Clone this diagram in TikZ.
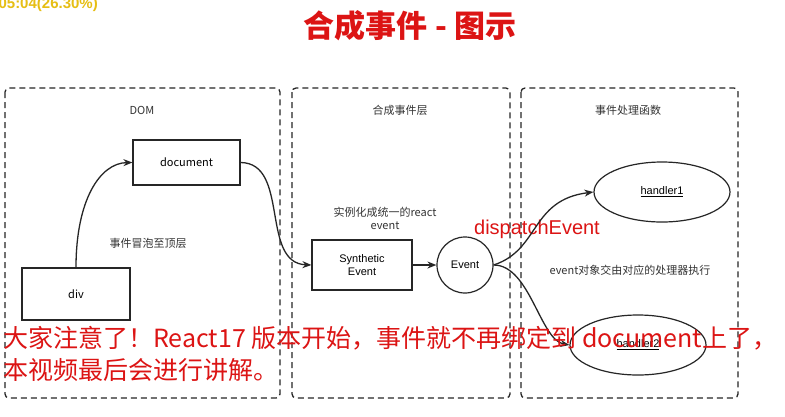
\documentclass[tikz,border=0pt]{standalone}
\usepackage{fontspec}
\setmainfont{Liberation Sans}
\newfontfamily\cjk{Noto Sans CJK SC}
\usetikzlibrary{arrows.meta,shapes.geometric}
\definecolor{rd}{RGB}{220,20,20}
\tikzset{
 zone/.style={draw=black!85,dashed,line width=1.3pt,rounded corners=4pt,dash pattern=on 6pt off 4pt},
 boxn/.style={draw=black!85,line width=1.2pt,font=\cjk\fontsize{11}{12}\selectfont,align=center},
 ell/.style={ellipse,draw=black!85,line width=1.2pt,minimum width=136pt,minimum height=60pt,font=\fontsize{11}{12}\selectfont},
 lbl/.style={font=\cjk\fontsize{11}{13}\selectfont,align=center,text=black!80},
 con/.style={line width=1.3pt,draw=black!85,-{Stealth[length=9pt,width=7pt]}},
 warn/.style={font=\cjk\fontsize{25}{30}\selectfont,text=rd,anchor=west,inner sep=0pt}
}
\begin{document}
\begin{tikzpicture}[x=1pt,y=-1pt]
\useasboundingbox (0,0) rectangle (785,416);
\fill[white] (0,0) rectangle (785,416);
\node[anchor=east,inner sep=0pt,text={rgb,255:red,230;green,190;blue,20},font=\fontsize{15}{16}\selectfont\bfseries] (clock) at (98,5) {05:04(26.30\%)};
\node[font=\cjk\fontsize{31}{34}\selectfont\bfseries,text=rd] (title) at (410,26) {合成事件 - 图示};
\draw[zone] (5,88) rectangle (280,398);
\draw[zone] (292,88) rectangle (510,398);
\draw[zone] (521,88) rectangle (738,398);
\node[lbl] (t1) at (142,110) {DOM};
\node[lbl] (t2) at (400,110) {合成事件层};
\node[lbl] (t3) at (628,110) {事件处理函数};
\node[boxn,minimum width=107pt,minimum height=45pt] (doc) at (186.5,162.5) {document};
\node[boxn,minimum width=108pt,minimum height=52pt] (div) at (76,294) {div};
\node[boxn,minimum width=100pt,minimum height=50pt,font=\fontsize{11}{13}\selectfont] (syn) at (362,265) {Synthetic\\Event};
\node[circle,draw=black!85,line width=1.2pt,minimum size=56pt,font=\fontsize{11}{12}\selectfont] (ev) at (465,265) {Event};
\node[ell] (h1) at (662,192) {\underline{handler1}};
\node[ell] (h2) at (638,345) {\underline{handler2}};
\node[lbl] (l1) at (148,243) {事件冒泡至顶层};
\node[lbl] (l2) at (385,218) {实例化成统一的react\\event};
\node[font=\fontsize{20}{22}\selectfont,text=rd] (l3) at (537,229) {dispatchEvent};
\node[lbl] (l4) at (630,270) {event对象交由对应的处理器执行};
\draw[con] (div.north) .. controls (76,200) and (100,163) .. (doc.west);
\draw[con] (doc.east) .. controls (290,163) and (260,263) .. (syn.west);
\draw[con] (syn.east) -- (ev.west);
\draw[con] (ev.east) .. controls (540,250) and (530,200) .. (h1.west);
\draw[con] (ev.east) .. controls (530,265) and (540,340) .. (h2.west);
\node[warn] (w1) at (3,338) {大家注意了！React17 版本开始，事件就不再绑定到 document上了，};
\node[warn] (w2) at (3,370) {本视频最后会进行讲解。};
\end{tikzpicture}
\end{document}
